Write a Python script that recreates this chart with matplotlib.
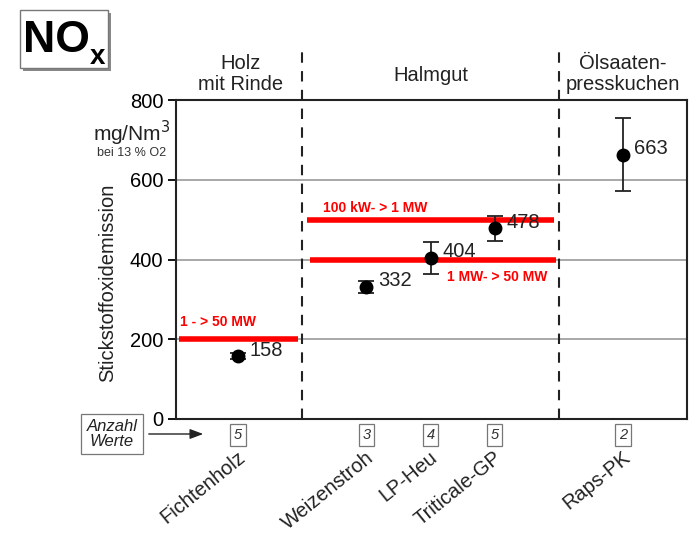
import matplotlib
matplotlib.use("Agg")
import matplotlib.pyplot as plt
from matplotlib.patches import Rectangle, FancyArrowPatch

plt.rcParams["font.family"] = ["Liberation Sans", "DejaVu Sans"]

# Data
categories = ["Fichtenholz", "Weizenstroh", "LP-Heu", "Triticale-GP", "Raps-PK"]
positions = [1, 3, 4, 5, 7]
means = [158, 332, 404, 478, 663]
errors = [8, 15, 40, 31, 92]
counts = [5, 3, 4, 5, 2]

groups = ["Holz\nmit Rinde", "Halmgut", "Ölsaaten-\npresskuchen"]
group_centers = [1.03, 4.0, 7.0]
group_bounds = [2.0, 6.0]

limit_values = [500, 400, 200]
limit_spans = [(2.08, 5.92), (2.12, 5.95), (0.08, 1.94)]
limit_labels = ["100 kW- > 1 MW", "1 MW- > 50 MW", "1 - > 50 MW"]

yticks = [0, 200, 400, 600, 800]

fig = plt.figure(figsize=(6.95, 5.36), dpi=100)
W, H = 695, 536
ax = fig.add_axes([176 / W, 1 - 419 / H, (687 - 176) / W, (419 - 100) / H])
ax.set_xlim(0.03, 8.0)
ax.set_ylim(0, 800)

for s in ax.spines.values():
    s.set_linewidth(1.5)
    s.set_color("#222222")

ax.set_yticks(yticks)
ax.set_yticklabels([str(t) for t in yticks], fontsize=14.5)
ax.tick_params(axis="y", direction="out", length=6, width=1.3, pad=3)
ax.set_xticks([])
for t in yticks[1:-1]:
    ax.axhline(t, color="#999999", lw=1.2, zorder=0)

# group separators, extended above the plot area
for b in group_bounds:
    ax.plot([b, b], [0, 920], ls=(0, (5, 4)), color="#222222", lw=1.5,
            clip_on=False, zorder=3)

group_y = [866, 862, 866]
for g, gc, gy in zip(groups, group_centers, group_y):
    ax.text(gc, gy, g, ha="center", va="center", fontsize=14.5,
            linespacing=1.15, color="#222222")

# limit lines
for v, (x0, x1) in zip(limit_values, limit_spans):
    ax.plot([x0, x1], [v, v], color="#ff0000", lw=4, solid_capstyle="butt", zorder=4)
ax.text(2.33, 529, limit_labels[0], color="#ff0000", fontsize=10, fontweight="bold",
        ha="left", va="center")
ax.text(4.25, 356, limit_labels[1], color="#ff0000", fontsize=10, fontweight="bold",
        ha="left", va="center")
ax.text(0.09, 243, limit_labels[2], color="#ff0000", fontsize=10, fontweight="bold",
        ha="left", va="center")

# means with error bars
ax.errorbar(positions, means, yerr=errors, fmt="o", color="black", ms=9,
            ecolor="#222222", elinewidth=1.3, capsize=6, capthick=1.3, zorder=5)
for x, m in zip(positions, means):
    ax.text(x + 0.18, m + 15, str(m), fontsize=14.5, ha="left", va="center",
            color="#222222", zorder=6)

# counts under axis
for x, c in zip(positions, counts):
    ax.text(x, -40, str(c), fontsize=10.5, style="italic", ha="center", va="center",
            color="#333333",
            bbox=dict(boxstyle="square,pad=0.25", fc="white", ec="#777777", lw=0.9),
            clip_on=False)

# category labels
for x, c in zip(positions, categories):
    ax.text(x - 0.02, -72, c, rotation=39, rotation_mode="anchor", fontsize=14.5,
            ha="right", va="top", color="#222222", clip_on=False)

# y-axis label and unit
fig.text(108 / W, 1 - 283 / H, "Stickstoffoxidemission", rotation=90, fontsize=14.5,
         ha="center", va="center", color="#222222")
fig.text(170 / W, 1 - 133 / H, "mg/Nm$^3$", fontsize=15, ha="right", va="center",
         color="#222222")
fig.text(166 / W, 1 - 153 / H, "bei 13 % O2", fontsize=9, ha="right", va="center",
         color="#333333")

# "Anzahl Werte" box with arrow
fig.text(112 / W, 1 - 434 / H, "Anzahl\nWerte", fontsize=12, style="italic",
         ha="center", va="center", linespacing=1.0, color="#222222",
         bbox=dict(boxstyle="square,pad=0.3", fc="white", ec="#777777", lw=0.9))
fig.patches.append(FancyArrowPatch(
    (146 / W, 1 - 434 / H), (206 / W, 1 - 434 / H), transform=fig.transFigure,
    arrowstyle="-|>,head_length=8,head_width=3", color="#222222", lw=1.0))

# NOx title box with shadow
fig.patches.append(Rectangle((23 / W, 1 - 71 / H), 88 / W, 58 / H,
                             transform=fig.transFigure, fc="#888888", ec="none"))
fig.patches.append(Rectangle((20 / W, 1 - 68 / H), 88 / W, 58 / H,
                             transform=fig.transFigure, fc="white", ec="#777777", lw=1))
fig.text(23 / W, 1 - 40 / H, "NO", fontsize=32, fontweight="bold", ha="left",
         va="center", color="black")
fig.text(90 / W, 1 - 57 / H, "x", fontsize=20, fontweight="bold", ha="left",
         va="center", color="black")

fig.savefig("out.png", dpi=100)
